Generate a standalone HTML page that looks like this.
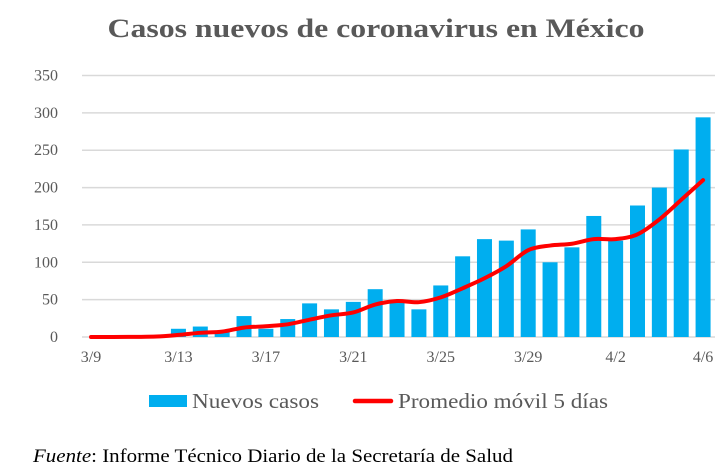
<!DOCTYPE html>
<html><head><meta charset="utf-8">
<style>
body{margin:0;background:#fff;}
svg{display:block;font-family:"Liberation Serif",serif;}
</style></head>
<body>
<svg id="chart" width="728" height="475" viewBox="0 0 728 475">
<text x="376" y="37" text-anchor="middle" font-size="26" font-weight="bold" fill="#595959" textLength="537" lengthAdjust="spacingAndGlyphs">Casos nuevos de coronavirus en México</text>
<g id="grid"></g><g id="bars"></g><g id="line"></g><g id="xlabels"></g>
<g>
<rect x="149" y="395" width="38" height="12" fill="#00AEEF"/>
<text x="192" y="408" font-size="21" fill="#595959" textLength="127" lengthAdjust="spacingAndGlyphs">Nuevos casos</text>
<line x1="355" y1="401" x2="391" y2="401" stroke="#FF0000" stroke-width="4.5" stroke-linecap="round"/>
<text x="398" y="408" font-size="21" fill="#595959" textLength="210" lengthAdjust="spacingAndGlyphs">Promedio móvil 5 días</text>
</g>
<text x="33" y="462" font-size="19" fill="#000" textLength="480" lengthAdjust="spacingAndGlyphs"><tspan font-style="italic">Fuente</tspan>: Informe Técnico Diario de la Secretaría de Salud</text>
</svg>
<script>
const dates = ["3/9","3/10","3/11","3/12","3/13","3/14","3/15","3/16","3/17","3/18","3/19","3/20","3/21","3/22","3/23","3/24","3/25","3/26","3/27","3/28","3/29","3/30","3/31","4/1","4/2","4/3","4/4","4/5","4/6"];
const newCases = [0,0,1,2,11,14,8,28,11,24,45,37,47,64,48,37,69,108,131,129,144,100,120,162,129,176,200,251,294];
const yTicks = [0,50,100,150,200,250,300,350];
const xTickLabels = ["3/9","3/13","3/17","3/21","3/25","3/29","4/2","4/6"];

const NS="http://www.w3.org/2000/svg";
const x0=91, step=21.86, y0=337, ppu=261.5/350, bw=15;
const xs=i=>x0+i*step, ys=v=>y0-v*ppu;
function mk(t,a,p){const e=document.createElementNS(NS,t);for(const k in a)e.setAttribute(k,a[k]);document.getElementById(p).appendChild(e);return e;}
yTicks.forEach(v=>{
  const l=mk("line",{x1:82,x2:715,y1:ys(v),y2:ys(v),stroke:"#D9D9D9","stroke-width":1.5},"grid");
  
  
  const t=mk("text",{x:58,y:ys(v)+5,"text-anchor":"end","font-size":16,fill:"#595959"},"grid");
  
  
  t.textContent=v;
});
newCases.forEach((v,i)=>{
  const r=mk("rect",{x:xs(i)-bw/2,y:ys(v),width:bw,height:v*ppu,fill:"#00AEEF"},"bars");
  
  
});
xTickLabels.forEach(d=>{
  const i=dates.indexOf(d);
  const t=mk("text",{x:xs(i),y:362,"text-anchor":"middle","font-size":16,fill:"#595959"},"xlabels");
  
  
  t.textContent=d;
});
const ma=newCases.map((v,i)=>{const s=newCases.slice(Math.max(0,i-4),i+1);return s.reduce((a,b)=>a+b,0)/5;});
const pts=ma.map((v,i)=>[xs(i),ys(v)]);
let d="M"+pts[0][0]+","+pts[0][1];
for(let i=0;i<pts.length-1;i++){
  const p0=pts[Math.max(0,i-1)],p1=pts[i],p2=pts[i+1],p3=pts[Math.min(pts.length-1,i+2)];
  const t=0.5/3;
  d+=` C${p1[0]+(p2[0]-p0[0])*t},${p1[1]+(p2[1]-p0[1])*t} ${p2[0]-(p3[0]-p1[0])*t},${p2[1]-(p3[1]-p1[1])*t} ${p2[0]},${p2[1]}`;
}
const ln=mk("path",{d:d,fill:"none",stroke:"#FF0000","stroke-width":4,"stroke-linecap":"round","stroke-linejoin":"round"},"line");


</script>
</body></html>
